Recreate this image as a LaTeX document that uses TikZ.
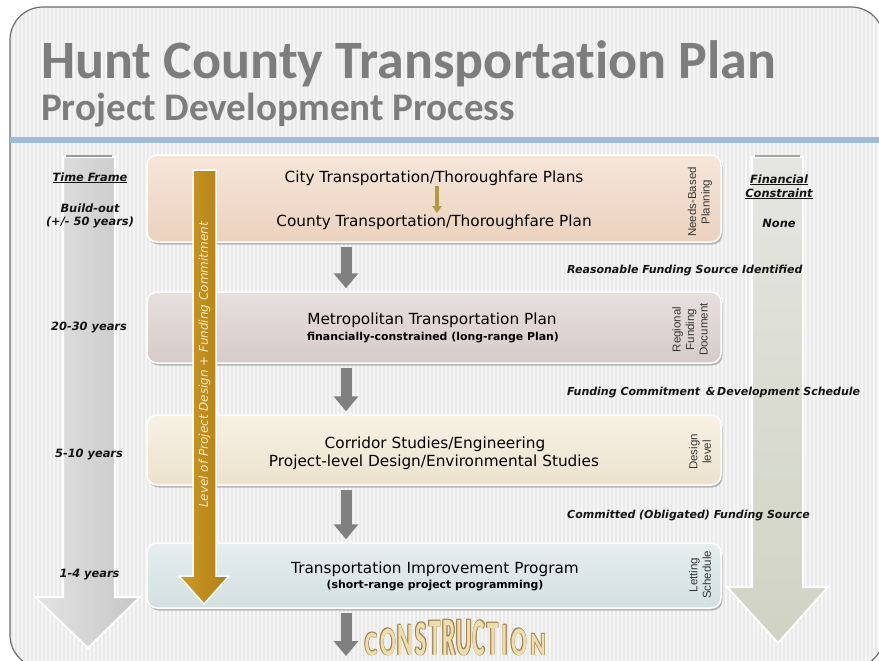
\documentclass[tikz,border=0pt]{standalone}
\usepackage{fontspec}
\usepackage{graphicx}
\setmainfont{DejaVu Sans}[ItalicFont={DejaVu Sans Oblique},BoldFont={DejaVu Sans Bold},BoldItalicFont={DejaVu Sans Bold Oblique}]
\newfontfamily\titlefont{Carlito}[Ligatures=NoCommon]
\newfontfamily\sidefont{Liberation Sans}
\usetikzlibrary{shadows,arrows.meta,calc}
\definecolor{bgc}{RGB}{246,246,246}
\definecolor{stripec}{RGB}{233,233,233}
\definecolor{framec}{RGB}{110,110,110}
\definecolor{bandc}{RGB}{158,188,216}
\definecolor{titlec}{RGB}{125,125,125}
\definecolor{boxat}{RGB}{246,230,218}\definecolor{boxab}{RGB}{236,210,190}
\definecolor{boxbt}{RGB}{232,224,222}\definecolor{boxbb}{RGB}{214,203,200}
\definecolor{boxct}{RGB}{248,242,228}\definecolor{boxcb}{RGB}{236,226,206}
\definecolor{boxdt}{RGB}{230,238,238}\definecolor{boxdb}{RGB}{212,224,224}
\definecolor{arrowg}{RGB}{128,128,128}
\definecolor{golda}{RGB}{205,155,40}\definecolor{goldb}{RGB}{176,126,20}
\definecolor{goldtext}{RGB}{250,236,196}
\definecolor{olivec}{RGB}{176,154,70}
\definecolor{labc}{RGB}{20,20,20}
\definecolor{sidec}{RGB}{55,55,55}
\definecolor{larra}{RGB}{228,228,228}\definecolor{larrb}{RGB}{198,198,198}
\definecolor{rarra}{RGB}{229,230,224}\definecolor{rarrb}{RGB}{208,211,196}
\definecolor{consfill}{RGB}{238,222,172}\definecolor{consline}{RGB}{160,128,78}
\begin{document}
\begin{tikzpicture}[x=1pt,y=-1pt,
  procbox/.style={draw=white,line width=1.5pt,rounded corners=10pt,minimum width=574pt,inner sep=0,
     drop shadow={shadow xshift=1.5pt,shadow yshift=-2.5pt,opacity=.35,fill=black!70}},
  maintxt/.style={anchor=base,inner sep=1pt,text=black,font=\fontsize{15.3}{18}\selectfont},
  subtxt/.style={anchor=base,inner sep=1pt,text=black,font=\fontsize{10.9}{13}\selectfont\bfseries},
  sidetxt/.style={rotate=90,align=center,inner sep=0,text=sidec,font=\sidefont\fontsize{11.5}{13.5}\selectfont},
  lab/.style={anchor=base,inner sep=0,text=labc,font=\fontsize{11.4}{13}\selectfont\bfseries\itshape},
  midlab/.style={anchor=base west,inner sep=0,text=labc,font=\fontsize{11}{13}\selectfont\bfseries\itshape},
  flowarrow/.style={-{Triangle[width=24pt,length=15pt]},line width=11pt,draw=arrowg},
  bigarrow/.style={draw=white,line width=2pt},
  consl/.style={anchor=base,inner sep=0,font=\titlefont\bfseries\fontsize{10}{12}\selectfont}
]
\useasboundingbox (0,0) rectangle (879,661);
\fill[white] (0,0) rectangle (879,661);
% background frame with stripes
\begin{scope}
\clip[rounded corners=33pt] (10,7) rectangle (884,668);
\fill[bgc] (0,0) rectangle (884,668);
\foreach \i in {0,...,217} \draw[stripec,line width=1.2pt] (12+4*\i,0) -- (12+4*\i,668);
\end{scope}
\draw[framec,line width=1.2pt,rounded corners=33pt] (10,7) rectangle (884,668);
\fill[bandc] (10,137) rectangle (879,143);
% titles
\node[anchor=base west,inner sep=0,text=titlec] (title) at (41,78)
  {\resizebox{735pt}{!}{\titlefont\bfseries Hunt County Transportation Plan}};
\node[anchor=base west,inner sep=0,text=titlec] (subtitle) at (41,121)
  {\resizebox{474pt}{!}{\titlefont\bfseries Project Development Process}};
% left time-frame arrow
\path[bigarrow,left color=larra,right color=larrb]
  (63,157) -- (115,157) -- (115,597) -- (140,597) -- (88,648) -- (35,597) -- (63,597) -- cycle;
\draw[gray!80,line width=2pt] (66,156) -- (112,156);
% right financial-constraint arrow
\path[bigarrow,top color=rarra,bottom color=rarrb]
  (752,157) -- (803,157) -- (803,587) -- (828,587) -- (778,643) -- (727,587) -- (752,587) -- cycle;
\draw[gray!70,line width=2pt] (755,156) -- (800,156);
% process boxes
\node[procbox,top color=boxat,bottom color=boxab,minimum height=87pt] (b1) at (434,198.5) {};
\node[procbox,top color=boxbt,bottom color=boxbb,minimum height=71pt] (b2) at (434,327.5) {};
\node[procbox,top color=boxct,bottom color=boxcb,minimum height=70pt] (b3) at (434,450) {};
\node[procbox,top color=boxdt,bottom color=boxdb,minimum height=65pt] (b4) at (434,575.5) {};
% box texts
\node[maintxt] (t1) at (434,182.5) {City Transportation/Thoroughfare Plans};
\node[maintxt] (t2) at (434,226) {County Transportation/Thoroughfare Plan};
\coordinate (gx) at (437,0);
\draw[-{Triangle[width=9pt,length=7pt]},line width=4.5pt,draw=olivec,shorten <=-1pt]
  (t1.south -| gx) -- (t2.north -| gx);
\node[maintxt] (t3) at (432,324) {Metropolitan Transportation Plan};
\node[subtxt] (t4) at (433,340) {financially-constrained (long-range Plan)};
\node[maintxt] (t5) at (435,448) {Corridor Studies/Engineering};
\node[maintxt] (t6) at (434,466) {Project-level Design/Environmental Studies};
\node[maintxt] (t7) at (435,573) {Transportation Improvement Program};
\node[subtxt] (t8) at (435,588) {(short-range project programming)};
% side labels
\node[sidetxt] (s1) at (700,202) {Needs-Based\\Planning};
\node[sidetxt] (s2) at (690,329.5) {Regional\\Funding\\Document};
\node[sidetxt] (s3) at (700,452) {Design\\level};
\node[sidetxt] (s4) at (700,575) {Letting\\Schedule};
% flow arrows
\coordinate (ax) at (346,0);
\coordinate (endc) at (346,656);
\draw[flowarrow,shorten <=4pt,shorten >=3pt] (b1.south -| ax) -- (b2.north -| ax);
\draw[flowarrow,shorten <=4pt,shorten >=3pt] (b2.south -| ax) -- (b3.north -| ax);
\draw[flowarrow,shorten <=4pt,shorten >=3pt] (b3.south -| ax) -- (b4.north -| ax);
\draw[flowarrow,shorten <=4pt] (b4.south -| ax) -- (endc);
% gold arrow
\path[draw=white,line width=1.5pt,left color=golda,right color=goldb]
  (193,170) -- (216,170) -- (216,576) -- (229,576) -- (204,604) -- (179,576) -- (193,576) -- cycle;
\node[rotate=90,inner sep=0,text=goldtext,font=\fontsize{12}{14}\selectfont\itshape] (gt) at (204.5,365)
  {Level of Project Design + Funding Commitment};
% left labels
\node[lab] (l1) at (90,181) {\underline{Time Frame}};
\node[lab] (l2) at (90,212) {Build-out};
\node[lab] (l3) at (90,225) {(+/- 50 years)};
\node[lab] (l4) at (89,330) {20-30 years};
\node[lab] (l5) at (89,457) {5-10 years};
\node[lab] (l6) at (89.5,577) {1-4 years};
% right labels
\node[lab] (r1) at (779,183) {\underline{Financial}};
\node[lab] (r2) at (779,197) {\underline{Constraint}};
\node[lab] (r3) at (779,227) {None};
% middle labels
\node[midlab] (m1) at (567,273) {Reasonable Funding Source Identified};
\node[midlab] (m2) at (567,395) {Funding Commitment \,\&\,Development Schedule};
\node[midlab] (m3) at (567,518) {Committed (Obligated) Funding Source};
% CONSTRUCTION word art
\foreach \L/\x/\h [count=\k] in {C/371/22,O/388/26,N/405/30,S/421/32,T/435/34,R/449/35,U/464/35,C/479/34,T/493/32,I/505/30,O/519/26,N/538/21}{
  \pgfmathsetmacro\ys{\h/6.44}
  \foreach \dx/\dy [count=\j] in {0.7/0.7,-0.7/0.7,0.7/-0.7,-0.7/-0.7}
    \node[consl,text=consline] (co\k-\j) at (\x+\dx,655+\dy) {\scalebox{2.35}[\ys]{\L}};
  \node[consl,text=consfill] (cl\k) at (\x,655) {\scalebox{2.35}[\ys]{\L}};
}
\end{tikzpicture}
\end{document}
